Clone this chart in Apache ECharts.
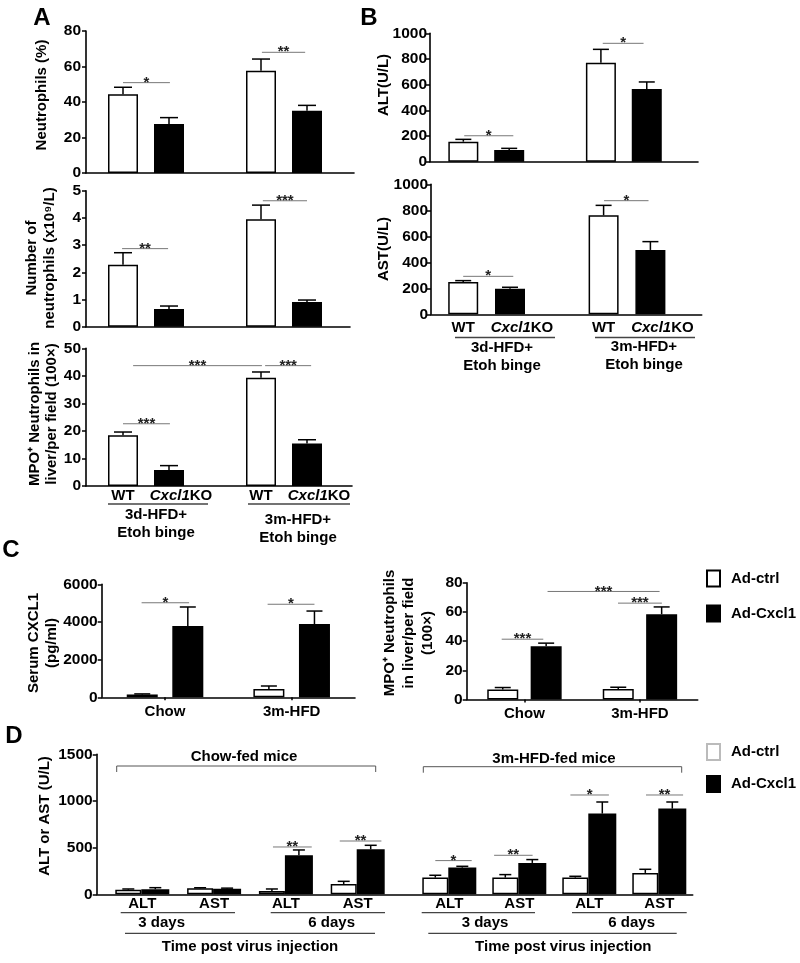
<!DOCTYPE html>
<html><head><meta charset="utf-8">
<script src="https://cdn.jsdelivr.net/npm/echarts@6.0.0/dist/echarts.min.js"></script>
<style>html,body{margin:0;padding:0;background:#fff}#c{width:800px;height:963px}</style>
</head><body><div id="c"></div>
<script>
// ================= DATA =================
// Panels A & B: one slot per bar, '' = spacer between the two diet groups
const slotsAB = ['WT', 'Cxcl1KO', '', 'WT', 'Cxcl1KO'];
const groupsAB = ['3d-HFD+\nEtoh binge', '3m-HFD+\nEtoh binge'];
// A
const aNeutPct = [44.3, 27.6, null, 57.6, 35.1];
const aNeutPctErr = [48.3, 31.2, null, 64.2, 38.1];
const aNeutNum = [2.28, 0.65, null, 3.95, 0.91];
const aNeutNumErr = [2.72, 0.76, null, 4.47, 0.98];
const aMpo = [18.4, 5.8, null, 39.3, 15.4];
const aMpoErr = [19.6, 7.4, null, 41.4, 16.8];
// B
const bAlt = [156, 91, null, 771, 566];
const bAltErr = [174, 104, null, 875, 621];
const bAst = [248, 197, null, 762, 495];
const bAstErr = [259, 208, null, 838, 559];
// C
const cGroups = ['Chow', '3m-HFD'];
const treatments = ['Ad-ctrl', 'Ad-Cxcl1'];
const cSerumCtrl = [150, 440];
const cSerumCtrlErr = [180, 600];
const cSerumAd = [3790, 3890];
const cSerumAdErr = [4795, 4580];
const cMpoCtrl = [6.8, 7.2];
const cMpoCtrlErr = [8.2, 8.4];
const cMpoAd = [36.4, 58.4];
const cMpoAdErr = [38.6, 63.4];
// D
const dTests = ['ALT', 'AST', 'ALT', 'AST'];
const dDays = ['3 days', '6 days'];
const dChowCtrl = [49, 64, 35, 110];
const dChowCtrlErr = [57, 70, 57, 139];
const dChowAd = [54, 60, 418, 482];
const dChowAdErr = [71, 66, 475, 525];
const dHfdCtrl = [179, 179, 179, 229];
const dHfdCtrlErr = [204, 211, 193, 268];
const dHfdAd = [286, 336, 865, 918];
const dHfdAdErr = [300, 372, 989, 989];
// significance bars: [from, to (category units), y value, label]
const sigATop = [[0, 1.02, 50.9, '*'], [3.02, 3.96, 68.0, '**']];
const sigAMid = [[-0.02, 0.98, 2.87, '**'], [3.04, 4.0, 4.63, '***']];
const sigABot = [[0, 1.02, 22.6, '***'], [0.22, 3.02, 43.7, '***'], [3.09, 4.09, 43.7, '***']];
const sigBTop = [[0.02, 1.09, 202, '*'], [3.04, 3.93, 922, '*']];
const sigBBot = [[0, 1.07, 292, '*'], [3.01, 3.96, 874, '*']];
const sigCLeft = [[-0.185, 0.19, 5020, '*'], [0.81, 1.18, 4940, '*']];
const sigCRight = [[-0.197, 0.163, 41.3, '***'], [0.81, 1.19, 66.0, '***'], [0.2, 1.17, 74.0, '***']];
const sigDChow = [[1.82, 2.36, 507, '**'], [2.75, 3.33, 571, '**']];
const sigDHfd = [[-0.2, 0.32, 361, '*'], [0.64, 1.19, 418, '**'], [1.73, 2.28, 1064, '*'], [2.81, 3.34, 1064, '**']];

// ================= BUILD =================
const FF = '"Liberation Sans", Arial, Helvetica, sans-serif';
const grids = [], xAxes = [], yAxes = [], series = [], graphics = [];
const AX = {color: '#000', width: 1.6};

function addGrid(r) { grids.push(Object.assign({outerBoundsMode: 'none', containLabel: false}, r)); return grids.length - 1; }
function yAxisVis(gi, min, max, interval, margin) {
  return {type: 'value', gridIndex: gi, min, max, interval,
    axisLine: {show: true, lineStyle: AX},
    axisTick: {show: true, length: 4, lineStyle: {color: '#000', width: 1.5}},
    axisLabel: {show: true, color: '#000', fontSize: 15.5, fontWeight: 'bold', fontFamily: FF, margin: margin || 5,
      formatter: v => String(v)},
    splitLine: {show: false}};
}
function frame(r, min, max, interval, margin) {
  const gi = addGrid(r);
  xAxes.push({type: 'category', gridIndex: gi, data: [''], axisLine: {show: true, onZero: false, lineStyle: AX},
    axisTick: {show: false}, axisLabel: {show: false}, splitLine: {show: false}});
  yAxes.push(yAxisVis(gi, min, max, interval, margin));
  return gi;
}
function dataGrid(r, cats, min, max, label) {
  const gi = addGrid(r);
  xAxes.push({type: 'category', gridIndex: gi, data: cats, axisLine: {show: false},
    axisTick: {show: false}, axisLabel: label || {show: false}, splitLine: {show: false}});
  yAxes.push({type: 'value', gridIndex: gi, min, max, show: false, splitLine: {show: false}});
  return gi;
}
function errSeries(gi, items, offset, capHalf) {
  return {type: 'custom', xAxisIndex: gi, yAxisIndex: gi, silent: true, z: 4, clip: false,
    data: items, encode: {x: 0, y: [1, 2]},
    renderItem: (p, api) => {
      const b = api.coord([api.value(0), api.value(1)]);
      const t = api.coord([api.value(0), api.value(2)]);
      const cx = b[0] + offset;
      const st = {stroke: '#000', lineWidth: 1.5};
      return {type: 'group', children: [
        {type: 'line', shape: {x1: cx, y1: b[1], x2: cx, y2: t[1]}, style: st},
        {type: 'line', shape: {x1: cx - capHalf, y1: t[1], x2: cx + capHalf, y2: t[1]}, style: st}]};
    }};
}
function sigSeries(gi, sigs) {
  series.push({type: 'custom', xAxisIndex: gi, yAxisIndex: gi, silent: true, z: 5, clip: false,
    data: sigs.map(s => [Math.round(s[0]), s[2]]), encode: {x: 0, y: 1},
    renderItem: (p, api) => {
      const s = sigs[p.dataIndex];
      const band = api.size([1, 0])[0];
      const px = v => api.coord([Math.round(v), s[2]])[0] + (v - Math.round(v)) * band;
      const y = api.coord([Math.round(s[0]), s[2]])[1];
      const x0 = px(s[0]), x1 = px(s[1]);
      return {type: 'group', children: [
        {type: 'line', shape: {x1: x0, y1: y, x2: x1, y2: y}, style: {stroke: '#777', lineWidth: 1}},
        {type: 'text', style: {text: s[3], x: (x0 + x1) / 2, y: y, align: 'center', verticalAlign: 'middle',
          font: 'bold 15px ' + FF, fill: '#222'}}]};
    }});
}
const wtStyle = {color: '#fff', borderColor: '#000', borderWidth: 1.5};
const koStyle = {color: '#000', borderColor: '#000', borderWidth: 1.5};
function slotBars(gi, vals, errs, barW, capHalf) {
  series.push({type: 'bar', xAxisIndex: gi, yAxisIndex: gi, barWidth: barW, silent: true,
    data: vals.map((v, i) => v == null ? null : {value: v, itemStyle: slotsAB[i] === 'WT' ? wtStyle : koStyle})});
  const items = [];
  vals.forEach((v, i) => { if (v != null) items.push([i, v, errs[i]]); });
  series.push(errSeries(gi, items, 0, capHalf));
}
function groupBars(gi, cv, ce, av, ae, w0, w1, gapPct, capHalf) {
  const g = gapPct / 100, total = w0 * (1 + g) + w1;
  const off0 = -total / 2 + w0 / 2, off1 = -total / 2 + w0 * (1 + g) + w1 / 2;
  series.push({type: 'bar', name: treatments[0], xAxisIndex: gi, yAxisIndex: gi, barWidth: w0, barGap: gapPct + '%', silent: true, data: cv, itemStyle: wtStyle});
  series.push({type: 'bar', name: treatments[1], xAxisIndex: gi, yAxisIndex: gi, barWidth: w1, barGap: gapPct + '%', silent: true, data: av, itemStyle: koStyle});
  series.push(errSeries(gi, cv.map((v, i) => [i, v, ce[i]]), off0, capHalf));
  series.push(errSeries(gi, av.map((v, i) => [i, v, ae[i]]), off1, capHalf));
}
const lblBase = {color: '#000', fontSize: 15, fontWeight: 'bold', fontFamily: FF};
function abLabel(margin) {
  return {show: true, interval: 0, margin,
    formatter: v => v === 'WT' ? '{w|WT}' : (v ? '{i|Cxcl1}{k|KO}' : ''),
    rich: {w: lblBase, i: Object.assign({}, lblBase, {fontStyle: 'italic', padding: [0, 0, 0, 24]}), k: lblBase}};
}

// ---- Panel A ----
frame({left: 86, top: 31, width: 268, height: 142}, 0, 80, 20);
let g = dataGrid({left: 100, top: 31, width: 230, height: 142}, slotsAB, 0, 80);
slotBars(g, aNeutPct, aNeutPctErr, 30, 9); sigSeries(g, sigATop);

frame({left: 86, top: 190.7, width: 264, height: 136}, 0, 5, 1);
g = dataGrid({left: 100, top: 190.7, width: 230, height: 136}, slotsAB, 0, 5);
slotBars(g, aNeutNum, aNeutNumErr, 30, 9); sigSeries(g, sigAMid);

frame({left: 86, top: 348.3, width: 266, height: 137.7}, 0, 50, 10);
g = dataGrid({left: 100, top: 348.3, width: 230, height: 137.7}, slotsAB, 0, 50, abLabel(2));
slotBars(g, aMpo, aMpoErr, 30, 9); sigSeries(g, sigABot);

// ---- Panel B ----
frame({left: 430, top: 33.3, width: 268, height: 128.4}, 0, 1000, 200, 3);
g = dataGrid({left: 440.4, top: 33.3, width: 229.3, height: 128.4}, slotsAB, 0, 1000);
slotBars(g, bAlt, bAltErr, 30, 8); sigSeries(g, sigBTop);

frame({left: 431, top: 184.3, width: 270.7, height: 130}, 0, 1000, 200, 3);
g = dataGrid({left: 439.8, top: 184.3, width: 234, height: 130}, slotsAB, 0, 1000, abLabel(6));
slotBars(g, bAst, bAstErr, 30, 8); sigSeries(g, sigBBot);

// ---- Panel C ----
function cGrid(r, min, max, interval) {
  const gi = addGrid(r);
  xAxes.push({type: 'category', gridIndex: gi, data: cGroups,
    axisLine: {show: true, onZero: false, lineStyle: AX},
    axisTick: {show: true, alignWithLabel: true, length: 3, lineStyle: {color: '#000', width: 1.5}},
    axisLabel: Object.assign({show: true, interval: 0, margin: 7}, lblBase), splitLine: {show: false}});
  yAxes.push(yAxisVis(gi, min, max, interval, 4));
  return gi;
}
g = cGrid({left: 101.7, top: 584.3, width: 253.3, height: 113}, 0, 6000, 2000);
groupBars(g, cSerumCtrl, cSerumCtrlErr, cSerumAd, cSerumAdErr, 31, 31, 47, 8); sigSeries(g, sigCLeft);
g = cGrid({left: 466.7, top: 582.7, width: 231, height: 116.8}, 0, 80, 20);
groupBars(g, cMpoCtrl, cMpoCtrlErr, cMpoAd, cMpoAdErr, 31, 31, 40, 8); sigSeries(g, sigCRight);

// ---- Panel D ----
frame({left: 96.7, top: 754.3, width: 596, height: 140}, 0, 1500, 500, 4);
const dLbl = Object.assign({show: true, interval: 0, margin: 2}, lblBase);
g = dataGrid({left: 106.4, top: 754.3, width: 287.2, height: 140}, dTests, 0, 1500, dLbl);
groupBars(g, dChowCtrl, dChowCtrlErr, dChowAd, dChowAdErr, 26, 28, 0, 6); sigSeries(g, sigDChow);
g = dataGrid({left: 414.3, top: 754.3, width: 280, height: 140}, dTests, 0, 1500, dLbl);
groupBars(g, dHfdCtrl, dHfdCtrlErr, dHfdAd, dHfdAdErr, 26, 28, 0, 6); sigSeries(g, sigDHfd);

// ---- text & decorations ----
function txt(x, y, text, size, extra) {
  graphics.push(Object.assign({type: 'text', x, y, silent: true,
    style: {text, align: 'center', verticalAlign: 'middle', font: 'bold ' + (size || 15) + 'px ' + FF, fill: '#000', lineHeight: 18}}, extra || {}));
}
function rot(x, y, text, lh) {
  graphics.push({type: 'text', x, y, rotation: Math.PI / 2, silent: true,
    style: {text, align: 'center', verticalAlign: 'middle', font: 'bold 15px ' + FF, fill: '#000', lineHeight: lh || 18}});
}
function hline(x1, x2, y, color) {
  graphics.push({type: 'line', silent: true, shape: {x1, y1: y, x2, y2: y}, style: {stroke: color || '#444', lineWidth: 1.3}});
}
function bracket(x1, x2, y) {
  graphics.push({type: 'polyline', silent: true, shape: {points: [[x1, y + 6], [x1, y], [x2, y], [x2, y + 6]]},
    style: {stroke: '#555', lineWidth: 1, fill: null}});
}
txt(42, 18, 'A', 24); txt(369, 18, 'B', 24); txt(11, 550, 'C', 24); txt(14, 736, 'D', 24);

rot(42.3, 95, 'Neutrophils (%)');
rot(41.3, 258, 'Number of\nneutrophils (x10\u2079/L)', 18);
rot(43.5, 414, 'MPO\u207A Neutrophils in\nliver/per field (100\u00D7)', 17);
rot(384, 85, 'ALT(U/L)');
rot(384, 249, 'AST(U/L)');
rot(42.5, 643, 'Serum CXCL1\n(pg/ml)', 18);
rot(409, 633, 'MPO\u207A Neutrophils\nin liver/per field\n(100\u00D7)', 19);
rot(45, 816, 'ALT or AST (U/L)');

// A bottom group labels
hline(108, 208, 504); hline(248, 350, 504);
txt(156, 524, groupsAB[0]); txt(298, 528.5, groupsAB[1]);
// B bottom group labels
hline(455, 555, 337.5); hline(595, 695, 337.5);
txt(502, 356.5, groupsAB[0]); txt(644, 356, groupsAB[1]);
// D decorations
bracket(116.7, 375.7, 766); txt(244, 757, 'Chow-fed mice');
bracket(423.3, 681.7, 766.7); txt(554, 759, '3m-HFD-fed mice');
hline(120.7, 235, 912.7); hline(270.7, 385, 912.7);
txt(161.7, 922.7, dDays[0]); txt(331.7, 922.7, dDays[1]);
hline(125, 375, 933.3); txt(250, 947.3, 'Time post virus injection');
hline(421.7, 535, 912.7); hline(572, 686.7, 912.7);
txt(485, 922.7, dDays[0]); txt(631.7, 922.7, dDays[1]);
hline(428.3, 676.7, 933.3); txt(563.3, 947.3, 'Time post virus injection');

const legendBase = {orient: 'vertical', left: 706, icon: 'rect', itemWidth: 13, itemHeight: 16,
  selectedMode: false, padding: 0,
  textStyle: {color: '#000', fontSize: 15, fontWeight: 'bold', fontFamily: FF, padding: [0, 0, 0, 6]}};

const chart = echarts.init(document.getElementById('c'), null, {renderer: 'canvas'});
chart.setOption({
  animation: false,
  backgroundColor: '#fff',
  textStyle: {fontFamily: FF},
  grid: grids, xAxis: xAxes, yAxis: yAxes, series,
  legend: [
    Object.assign({}, legendBase, {top: 569.5, itemGap: 17, data: treatments}),
    Object.assign({}, legendBase, {top: 743, itemGap: 14,
      data: [{name: treatments[0], itemStyle: {borderColor: '#bbb'}}, treatments[1]]})
  ],
  graphic: {elements: graphics}
});
</script></body></html>
